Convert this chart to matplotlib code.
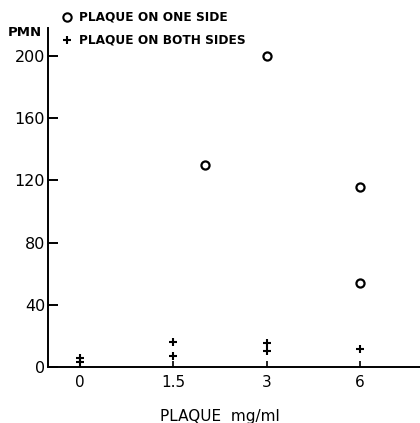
import matplotlib
matplotlib.use("Agg")
import matplotlib.pyplot as plt

# categorical x positions: 0, 1.5, 3, 6 mg/ml -> index 0..3
tick_labels = ["0", "1.5", "3", "6"]
tick_pos = [0, 1, 2, 3]

one_side_x = [1.34, 2.0, 3.0, 3.0]
one_side_y = [130, 200, 116, 54]

both_sides_x = [0, 0, 1, 1, 2, 2, 3]
both_sides_y = [6, 3, 16, 7, 15.5, 10, 11.5]

W, H = 420, 423
fig = plt.figure(figsize=(W / 100, H / 100), dpi=100)
ax = fig.add_axes([48 / W, 1 - 367 / H, (420 - 48) / W, (367 - 28) / H])

ax.scatter(one_side_x, one_side_y, s=34, facecolors="white", edgecolors="black",
           linewidths=1.6, zorder=3, clip_on=False)
ax.scatter(both_sides_x, both_sides_y, marker="+", s=30, color="black",
           linewidths=1.5, zorder=3, clip_on=False)

ax.set_xlim(-0.342, 3.64)
ax.set_ylim(0, 218)

for s in ["top", "right"]:
    ax.spines[s].set_visible(False)
for s in ["left", "bottom"]:
    ax.spines[s].set_linewidth(1.4)

ax.set_yticks([0, 40, 80, 120, 160, 200])
ax.set_xticks(tick_pos)
ax.set_xticklabels(tick_labels)
ax.tick_params(axis="y", direction="in", length=7, width=1.4, labelsize=11.5, pad=2)
ax.tick_params(axis="x", direction="in", length=4, width=1.2, labelsize=11, pad=6)

font = "DejaVu Sans"
for lbl in ax.get_xticklabels() + ax.get_yticklabels():
    lbl.set_family(font)

# axis titles
fig.text(8 / W, 1 - 33 / H, "PMN", ha="left", va="center", fontsize=9.5,
         family=font, fontweight="bold")
fig.text(220 / W, 1 - 416 / H, "PLAQUE  mg/ml", ha="center", va="center",
         fontsize=11, family=font)

# legend
fig.lines.append(plt.Line2D([67 / W], [1 - 17 / H], marker="o", markersize=6,
                            markerfacecolor="white", markeredgecolor="black",
                            markeredgewidth=1.5, transform=fig.transFigure))
fig.lines.append(plt.Line2D([67 / W], [1 - 40 / H], marker="+", markersize=6,
                            color="black", markeredgewidth=1.5,
                            transform=fig.transFigure))
fig.text(79 / W, 1 - 17 / H, "PLAQUE ON ONE SIDE", ha="left", va="center",
         fontsize=8.7, family=font, fontweight="bold")
fig.text(79 / W, 1 - 40 / H, "PLAQUE ON BOTH SIDES", ha="left", va="center",
         fontsize=8.7, family=font, fontweight="bold")

fig.savefig("out.png", dpi=100)
